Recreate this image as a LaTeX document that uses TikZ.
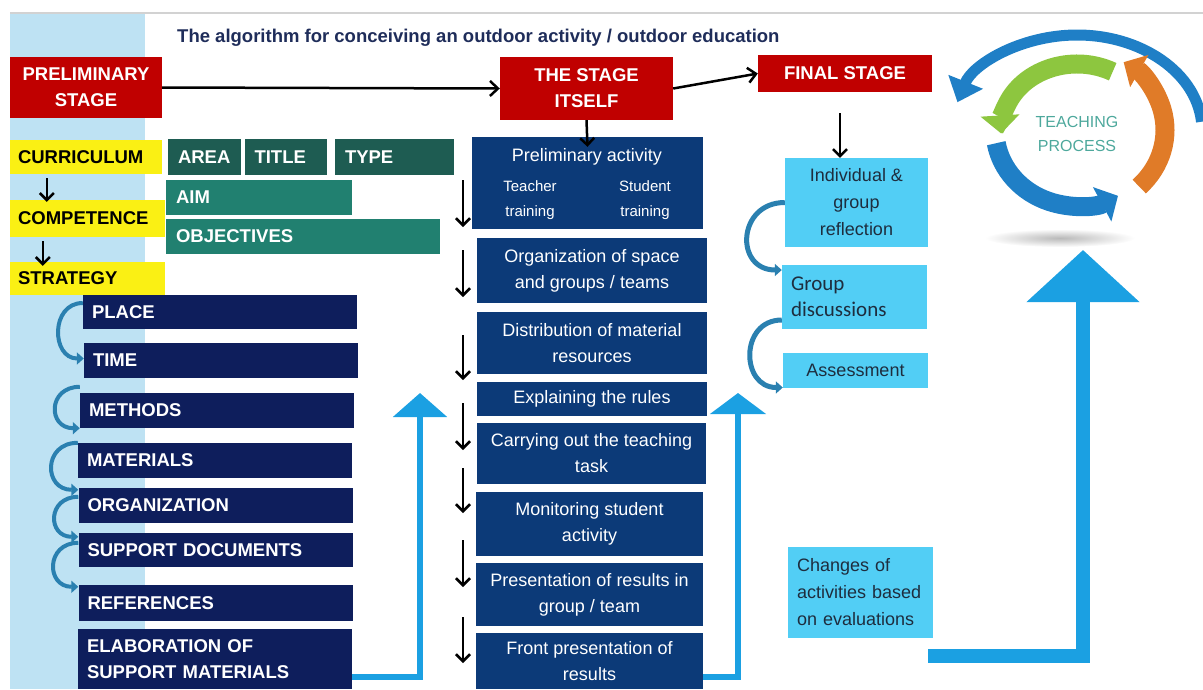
\documentclass[tikz,border=0pt]{standalone}
\usepackage{fontspec}
\setmainfont{Liberation Sans}
\newfontfamily\gdfont{Carlito}
\usetikzlibrary{arrows.meta}

\definecolor{stagered}{RGB}{192,0,0}
\definecolor{ybox}{RGB}{250,240,20}
\definecolor{tealdark}{RGB}{30,92,82}
\definecolor{tealbox}{RGB}{33,128,112}
\definecolor{navyleft}{RGB}{14,30,92}
\definecolor{navymid}{RGB}{12,58,120}
\definecolor{skybox}{RGB}{82,206,245}
\definecolor{skytext}{RGB}{30,45,62}
\definecolor{stripblue}{RGB}{190,226,243}
\definecolor{upblue}{RGB}{27,160,226}
\definecolor{curlblue}{RGB}{42,128,176}
\definecolor{titlenavy}{RGB}{31,45,90}
\definecolor{cyclegreen}{RGB}{141,198,63}
\definecolor{cycleorange}{RGB}{224,123,40}
\definecolor{cycleblue}{RGB}{31,127,198}
\definecolor{procteal}{RGB}{77,168,156}

\begin{document}
\begin{tikzpicture}[x=1pt,y=-1pt,
    stage_node/.style={rectangle,fill=stagered,text=white,inner sep=0pt,align=center,font=\fontsize{18.5}{26}\selectfont\bfseries},
    yellow_node/.style={rectangle,fill=ybox,text=black,inner xsep=8pt,inner ysep=0pt,align=left,text width=#1,font=\fontsize{18.5}{26}\selectfont\bfseries},
    teal_node/.style={rectangle,text=white,inner xsep=10pt,inner ysep=0pt,align=left,text width=#1,font=\fontsize{18.5}{26}\selectfont\bfseries},
    navy_node/.style={rectangle,fill=navyleft,text=white,inner xsep=9pt,inner ysep=0pt,align=left,text width=256pt,font=\fontsize{18.5}{26}\selectfont\bfseries},
    mid_node/.style={rectangle,fill=navymid,text=white,inner sep=0pt,align=center,minimum width=229pt,font=\fontsize{18}{26}\selectfont},
    sky_node/.style={rectangle,fill=skybox,text=skytext,inner sep=0pt,align=center,font=\fontsize{18}{27}\selectfont},
    down_arrow/.style={black,line width=2.5pt,-{Straight Barb[length=7pt,width=14pt]}},
    curl_arrow/.style={curlblue,line width=4pt,-{Triangle[length=7pt,width=12pt]}},
    up_arrow/.style={upblue,line width=#1}]
    \useasboundingbox (0,0) rectangle (1203,689);

    % background strip and top rule
    \fill[stripblue] (10,13) rectangle (145,689);
    \draw[gray!35,line width=1.5pt] (10,13) -- (1203,13);

    \node[anchor=west,inner sep=0pt,text=titlenavy,font=\fontsize{18.5}{22}\selectfont\bfseries] (title) at (177,38)
        {The algorithm for conceiving an outdoor activity / outdoor education};

    % stages
    \node[stage_node,minimum width=152pt,minimum height=61pt] (pre) at (86,87.5) {PRELIMINARY\\STAGE};
    \node[stage_node,minimum width=173pt,minimum height=63pt] (itself) at (586.5,88.5) {THE STAGE\\ITSELF};
    \node[stage_node,minimum width=174pt,minimum height=37pt] (final) at (845,73.5) {FINAL STAGE};

    % preliminary stage
    \node[yellow_node=136pt,minimum height=34pt] (cur) at (86,157) {CURRICULUM};
    \node[yellow_node=139pt,minimum height=37pt] (comp) at (87.5,218.5) {COMPETENCE};
    \node[yellow_node=139pt,minimum height=33pt] (strat) at (87.5,278.5) {STRATEGY};

    \node[teal_node=53pt,fill=tealdark,minimum height=36pt] (area) at (204.5,157) {AREA};
    \node[teal_node=62pt,fill=tealdark,minimum height=36pt] (ttl) at (285.5,157) {TITLE};
    \node[teal_node=99pt,fill=tealdark,minimum height=36pt] (type) at (394.5,157) {TYPE};
    \node[teal_node=166pt,fill=tealbox,minimum height=35pt] (aim) at (259,197.5) {AIM};
    \node[teal_node=254pt,fill=tealbox,minimum height=35pt] (obj) at (303,236.5) {OBJECTIVES};

    \node[navy_node,minimum height=34pt] (place) at (220,312) {PLACE};
    \node[navy_node,minimum height=35pt] (time) at (221,360.5) {TIME};
    \node[navy_node,minimum height=35pt] (methods) at (217,410.5) {METHODS};
    \node[navy_node,minimum height=35pt] (materials) at (215,460.5) {MATERIALS};
    \node[navy_node,minimum height=35pt] (org) at (215.5,505.5) {ORGANIZATION};
    \node[navy_node,minimum height=34pt] (support) at (215.5,550) {SUPPORT DOCUMENTS};
    \node[navy_node,minimum height=36pt] (refs) at (215.5,603) {REFERENCES};
    \node[navy_node,minimum height=60pt] (elab) at (215,659) {ELABORATION OF\\SUPPORT MATERIALS};

    % the stage itself
    \node[mid_node,minimum width=231pt,minimum height=92pt] (pa) at (587.5,183) {};
    \node[inner sep=0pt,text=white,font=\fontsize{18}{26}\selectfont] (patext) at (587,157) {Preliminary activity};
    \node[inner sep=0pt,text=white,align=center,font=\fontsize{15}{25}\selectfont] (teacher) at (530,200) {Teacher\\training};
    \node[inner sep=0pt,text=white,align=center,font=\fontsize{15}{25}\selectfont] (student) at (645,200) {Student\\training};
    \node[mid_node,minimum width=230pt,minimum height=65pt] (space) at (592,270.5) {Organization of space\\and groups / teams};
    \node[mid_node,minimum width=230pt,minimum height=62pt] (dist) at (592,343) {Distribution of material\\resources};
    \node[mid_node,minimum width=230pt,minimum height=34pt] (rules) at (592,399) {Explaining the rules};
    \node[mid_node,minimum height=61pt] (carry) at (591.5,453.5) {Carrying out the teaching\\task};
    \node[mid_node,minimum width=227pt,minimum height=64pt] (mon) at (589.5,524) {Monitoring student\\activity};
    \node[mid_node,minimum width=227pt,minimum height=63pt] (pres) at (589.5,594.5) {Presentation of results in\\group / team};
    \node[mid_node,minimum width=227pt,minimum height=56pt] (front) at (589.5,661) {Front presentation of\\results};

    % final stage
    \node[sky_node,minimum width=143pt,minimum height=89pt] (ind) at (856.5,202.5) {Individual \&\\group\\reflection};
    \node[sky_node,align=left,inner xsep=9pt,text width=127pt,minimum height=64pt,font=\fontsize{21}{26}\selectfont\gdfont] (gd) at (854.5,297) {Group\\discussions};
    \node[sky_node,minimum width=145pt,minimum height=35pt] (assess) at (855.5,370.5) {Assessment};
    \node[sky_node,align=left,inner xsep=9pt,text width=127pt,minimum height=91pt] (chg) at (860.5,592.5) {Changes of\\activities based\\on evaluations};

    % stage arrows
    \draw[black,line width=2.5pt,-{Straight Barb[length=8pt,width=15pt]}] (pre.east) -- (itself.west);
    \draw[black,line width=2.5pt,-{Straight Barb[length=8pt,width=15pt]}] (itself.east) -- (final.west);
    \draw[down_arrow] (itself.south) -- ([yshift=-10pt]pa.north);
    \coordinate (fa) at (840,113);
    \draw[down_arrow] (fa) -- (fa |- ind.north);
    \draw[down_arrow] ([xshift=37pt,yshift=-4pt]cur.south west) -- ([xshift=37pt,yshift=-2pt]comp.north west);
    \draw[down_arrow] ([xshift=33pt,yshift=-4pt]comp.south west) -- ([xshift=33pt,yshift=-4pt]strat.north west);

    % arrows beside the stage itself
    \foreach \i/\ya/\yb in {1/180/227,2/250/297,3/335/380,4/403/450,5/468/513,6/540/587,7/617/663}{
        \coordinate (d\i a) at (463,\ya);
        \coordinate (d\i b) at (463,\yb);
        \draw[down_arrow] (d\i a) -- (d\i b);
    }

    % curls
    \draw[curl_arrow] ([yshift=9pt]place.west) to[out=180,in=180,looseness=1.5] ([yshift=2pt]time.west);
    \draw[curl_arrow] ([yshift=6pt]methods.north west) to[out=180,in=180,looseness=2] (methods.south west);
    \draw[curl_arrow] (materials.north west) to[out=180,in=180,looseness=1.9] ([yshift=-2pt]org.north west);
    \draw[curl_arrow] ([yshift=-9pt]org.north west) to[out=180,in=180,looseness=2] ([yshift=-4pt]support.north west);
    \draw[curl_arrow] ([yshift=-10pt]support.north west) to[out=180,in=180,looseness=1.9] ([yshift=-2pt]refs.north west);
    \draw[curl_arrow,line width=5pt] (ind.west) to[out=180,in=180,looseness=1.8] ([yshift=27pt]gd.west);
    \draw[curl_arrow,line width=5pt] ([yshift=-23pt]gd.west) to[out=180,in=180,looseness=1.6] ([yshift=-17pt]assess.west);

    % feedback arrows
    \coordinate (upL) at (420,393);
    \coordinate (upM) at (738,393);
    \coordinate (chgend) at (928,656);
    \coordinate (upR) at (1083,250);
    \draw[up_arrow=6pt,-{Triangle[width=53pt,length=24pt]}] ([yshift=-18pt]elab.east) -| (upL);
    \draw[up_arrow=6pt,-{Triangle[width=55pt,length=21pt]}] ([yshift=-16pt]front.east) -| (upM);
    \draw[up_arrow=14pt,-{Triangle[width=110pt,length=52pt]}] (chgend) -| (upR);

    % teaching process cycle
    \shade[inner color=gray!55,outer color=white] (1060,238) ellipse (75 and 9);
    \begin{scope}[shift={(1077,130)},y=1pt]
        \draw[line width=11pt,cycleblue,-{Triangle[width=36pt,length=22pt]}] (5:125 and 95) arc[start angle=5,end angle=163,x radius=125,y radius=95];
        \draw[line width=19pt,cycleorange,-{Triangle[width=36pt,length=18pt]}] (-45:88 and 80) arc[start angle=-45,end angle=58,x radius=88,y radius=80];
        \draw[line width=19pt,cyclegreen,-{Triangle[width=38pt,length=18pt]}] (62:76 and 66) arc[start angle=62,end angle=183,x radius=76,y radius=66];
        \draw[line width=19pt,cycleblue,-{Triangle[width=38pt,length=18pt]}] (190:82 and 76) arc[start angle=190,end angle=300,x radius=82,y radius=76];
    \end{scope}
    \node[inner sep=0pt,text=procteal,align=center,font=\fontsize{16}{24}\selectfont] (proc) at (1077,134) {TEACHING\\PROCESS};
\end{tikzpicture}
\end{document}
